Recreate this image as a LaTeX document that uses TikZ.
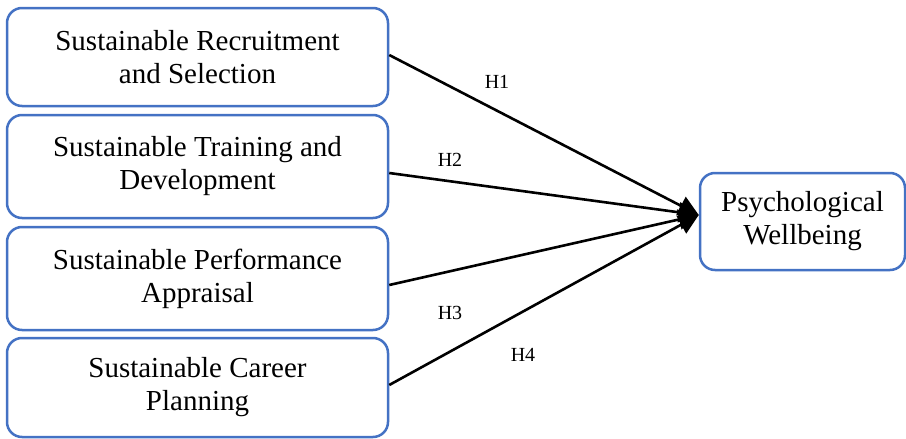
\documentclass[tikz,border=0pt]{standalone}
\usepackage{fontspec}
\setmainfont{Liberation Serif}
\usetikzlibrary{arrows.meta,calc}
\definecolor{boxblue}{HTML}{4472C4}
\tikzset{
  factor/.style={draw=boxblue, line width=2.5pt, rounded corners=15pt, fill=white,
    minimum width=381pt, align=center, font=\fontsize{29}{33}\selectfont, inner sep=0pt},
  outcome/.style={factor, minimum width=205pt, minimum height=97pt},
  path/.style={draw=black, line width=2.6pt, -{Triangle[length=20pt,width=20pt]}},
  hyp/.style={font=\fontsize{20}{22}\selectfont}
}
\begin{document}
\begin{tikzpicture}[x=1pt,y=-1pt]
\useasboundingbox (0,0) rectangle (906,439);
\node[factor, minimum height=98pt]  (rs) at (197.5,57)    {Sustainable Recruitment\\and Selection};
\node[factor, minimum height=103pt] (td) at (197.5,166.5) {Sustainable Training and\\Development};
\node[factor, minimum height=103pt] (pa) at (197.5,278.5) {Sustainable Performance\\Appraisal};
\node[factor, minimum height=99pt]  (cp) at (197.5,387.5) {Sustainable Career\\Planning};
\node[outcome] (pw) at (802.5,221.5) {Psychological\\Wellbeing};
\coordinate (tip) at ($(pw.west)+(0,-6.5)$);
\draw[path] ($(rs.east)+(0,-2)$) -- (tip);
\draw[path] ($(td.east)+(0,6.5)$) -- (tip);
\draw[path] ($(pa.east)+(0,6.5)$) -- (tip);
\draw[path] ($(cp.east)+(0,-2.5)$) -- (tip);
\node[hyp] (h1) at (497,82)  {H1};
\node[hyp] (h2) at (450,160) {H2};
\node[hyp] (h3) at (450,313) {H3};
\node[hyp] (h4) at (523,355) {H4};
\end{tikzpicture}
\end{document}
